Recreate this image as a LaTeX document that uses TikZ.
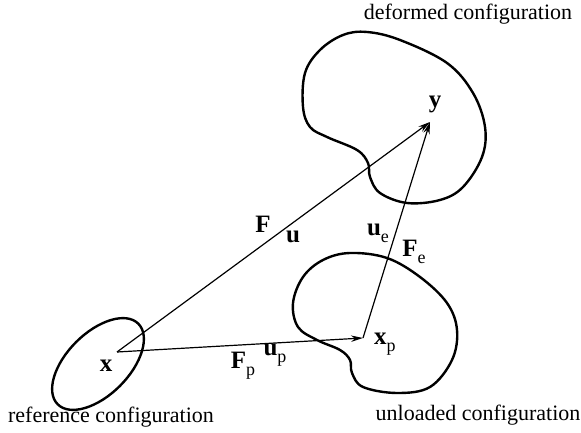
\documentclass[tikz,border=0pt]{standalone}
\usepackage{fontspec}
\setmainfont{Liberation Serif}
\usetikzlibrary{arrows.meta}
\newcommand{\vlab}[2]{\textbf{#1}\raisebox{-0.6ex}{\fontsize{9}{10}\selectfont #2}}
\begin{document}
\begin{tikzpicture}[x=0.5pt, y=0.5pt, font=\fontsize{11}{13}\selectfont,
  body/.style={line width=1.2pt},
  lab/.style={font=\fontsize{12.5}{14}\selectfont},
  vec/.style={line width=0.6pt, -{Stealth[length=6pt,width=3.2pt]}}]
  \useasboundingbox (0,0) rectangle (581,432);

  % reference configuration
  \draw[body, rotate around={45:(98,68)}] (98,68) ellipse [x radius=57, y radius=31];
  \node (reftext) at (111,15) {reference configuration};

  % deformed configuration
  \draw[body] plot[smooth cycle, tension=0.6] coordinates {
    (367,400) (400,392) (447,369) (473,339) (485,305) (482,275) (463,245)
    (440,232) (407,229) (380,239) (370,255) (368,269) (357,282) (327,295)
    (310,305) (303,325) (305,359) (320,382) (343,397)};
  \node (deftext) at (468,418) {deformed configuration};

  % unloaded configuration
  \draw[body] plot[smooth cycle, tension=0.6] coordinates {
    (350,179) (387,174) (420,155) (447,129) (457,102) (452,72) (430,45)
    (397,39) (363,45) (352,59) (350,72) (340,82) (317,92) (298,105)
    (293,129) (303,155) (323,172)};
  \node (unltext) at (478,17) {unloaded configuration};

  % points
  \coordinate (x) at (117,80);
  \coordinate (y) at (430,310);
  \coordinate (xp) at (363,94);
  \node[lab] (xlab) at (106,66) {\textbf{x}};
  \node[lab] (ylab) at (435,328) {\textbf{y}};
  \node[lab, anchor=west] (xplab) at (367,88) {\vlab{x}{p}};

  % maps
  \draw[vec] (x) -- (y);
  \draw[vec] (x) -- (xp);
  \draw[vec] (xp) -- (y);

  % labels on the maps
  \node[lab] (Flab) at (263,208) {\textbf{F}};
  \node[lab] (ulab) at (293,195) {\textbf{u}};
  \node[lab] (uelab) at (378,199) {\vlab{u}{e}};
  \node[lab] (Felab) at (414,180) {\vlab{F}{e}};
  \node[lab] (Fplab) at (243,66) {\vlab{F}{p}};
  \node[lab] (uplab) at (275,77) {\vlab{u}{p}};
\end{tikzpicture}
\end{document}
